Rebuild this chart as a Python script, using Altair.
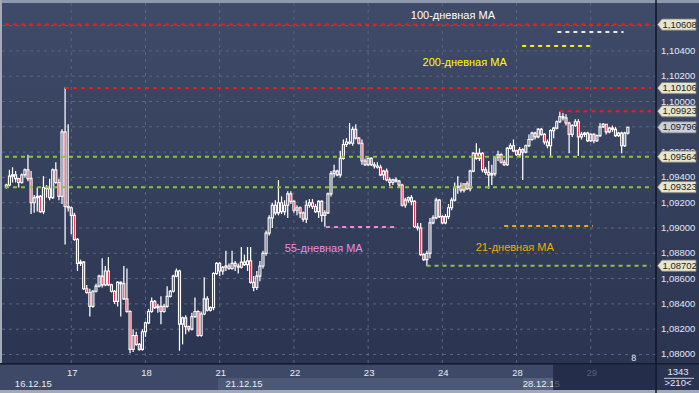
import altair as alt
import pandas as pd

# ---------------- data (EURUSD H1) ----------------
opens = [
    1.0932, 1.0934, 1.0941, 1.0942, 1.0939, 1.0936, 1.0942, 1.0946, 1.0939, 1.0920,
    1.0924, 1.0925, 1.0913, 1.0932, 1.0931, 1.0924, 1.0946, 1.0936, 1.0925, 1.0976,
    1.0917, 1.0916, 1.0910, 1.0891, 1.0872, 1.0873, 1.0852, 1.0849, 1.0838, 1.0850,
    1.0854, 1.0862, 1.0855, 1.0866, 1.0855, 1.0850, 1.0842, 1.0857, 1.0856, 1.0844,
    1.0834, 1.0804, 1.0815, 1.0808, 1.0804, 1.0818, 1.0825, 1.0834, 1.0842, 1.0837,
    1.0838, 1.0834, 1.0838, 1.0846, 1.0850, 1.0862, 1.0866, 1.0824, 1.0829, 1.0822,
    1.0820, 1.0830, 1.0834, 1.0815, 1.0832, 1.0844, 1.0835, 1.0837, 1.0864, 1.0872,
    1.0866, 1.0869, 1.0870, 1.0868, 1.0872, 1.0870, 1.0869, 1.0873, 1.0871, 1.0874,
    1.0857, 1.0853, 1.0862, 1.0870, 1.0880, 1.0896, 1.0908, 1.0918, 1.0912, 1.0920,
    1.0913, 1.0918, 1.0927, 1.0921, 1.0914, 1.0916, 1.0912, 1.0907, 1.0918, 1.0920,
    1.0917, 1.0913, 1.0921, 1.0910, 1.0912, 1.0927, 1.0943, 1.0945, 1.0942, 1.0955,
    1.0966, 1.0968, 1.0967, 1.0978, 1.0971, 1.0967, 1.0953, 1.0950, 1.0955, 1.0950,
    1.0949, 1.0948, 1.0942, 1.0945, 1.0938, 1.0936, 1.0938, 1.0937, 1.0934, 1.0918,
    1.0922, 1.0924, 1.0921, 1.0901, 1.0900, 1.0879, 1.0875, 1.0880, 1.0904, 1.0908,
    1.0922, 1.0909, 1.0904, 1.0909, 1.0916, 1.0922, 1.0932, 1.0933, 1.0930, 1.0935,
    1.0931, 1.0945, 1.0959, 1.0955, 1.0959, 1.0946, 1.0944, 1.0942, 1.0943, 1.0956,
    1.0958, 1.0952, 1.0950, 1.0963, 1.0965, 1.0961, 1.0958, 1.0962, 1.0960, 1.0965,
    1.0970, 1.0975, 1.0972, 1.0978, 1.0974, 1.0968, 1.0965, 1.0977, 1.0979, 1.0984,
    1.0988, 1.0987, 1.0983, 1.0974, 1.0981, 1.0984, 1.0972, 1.0974, 1.0975, 1.0969,
    1.0974, 1.0969, 1.0973, 1.0980, 1.0982, 1.0976, 1.0979, 1.0978, 1.0973, 1.0975,
    1.0965, 1.0975,
]
highs = [
    1.0935, 1.0946, 1.0948, 1.0945, 1.0939, 1.0943, 1.0947, 1.0958, 1.0945, 1.0926,
    1.0932, 1.0926, 1.0941, 1.0934, 1.0939, 1.0947, 1.0952, 1.0939, 1.0978, 1.1011,
    1.0982, 1.0917, 1.0912, 1.0892, 1.0875, 1.0874, 1.0855, 1.0852, 1.0851, 1.0856,
    1.0863, 1.0876, 1.0870, 1.0877, 1.0856, 1.0851, 1.0858, 1.0858, 1.0870, 1.0868,
    1.0835, 1.0820, 1.0818, 1.0809, 1.0820, 1.0826, 1.0836, 1.0845, 1.0843, 1.0840,
    1.0846, 1.0840, 1.0854, 1.0851, 1.0863, 1.0868, 1.0867, 1.0830, 1.0831, 1.0823,
    1.0833, 1.0845, 1.0835, 1.0834, 1.0861, 1.0846, 1.0838, 1.0865, 1.0873, 1.0873,
    1.0870, 1.0882, 1.0872, 1.0882, 1.0874, 1.0872, 1.0885, 1.0879, 1.0885, 1.0885,
    1.0862, 1.0866, 1.0874, 1.0882, 1.0898, 1.0910, 1.0920, 1.0922, 1.0938, 1.0925,
    1.0922, 1.0929, 1.0929, 1.0922, 1.0918, 1.0917, 1.0913, 1.0922, 1.0923, 1.0923,
    1.0919, 1.0922, 1.0922, 1.0914, 1.0928, 1.0945, 1.0950, 1.0946, 1.0961, 1.0970,
    1.0971, 1.0983, 1.0980, 1.0982, 1.0972, 1.0970, 1.0955, 1.0956, 1.0956, 1.0952,
    1.0952, 1.0950, 1.0946, 1.0947, 1.0940, 1.0939, 1.0940, 1.0938, 1.0935, 1.0924,
    1.0925, 1.0926, 1.0922, 1.0904, 1.0904, 1.0880, 1.0882, 1.0908, 1.0910, 1.0924,
    1.0923, 1.0910, 1.0911, 1.0919, 1.0924, 1.0936, 1.0941, 1.0936, 1.0935, 1.0937,
    1.0946, 1.0960, 1.0967, 1.0963, 1.0960, 1.0948, 1.0953, 1.0950, 1.0957, 1.0961,
    1.0959, 1.0954, 1.0964, 1.0967, 1.0970, 1.0962, 1.0964, 1.0963, 1.0966, 1.0974,
    1.0976, 1.0976, 1.0979, 1.0979, 1.0975, 1.0970, 1.0978, 1.0980, 1.0985, 1.0992,
    1.0991, 1.0990, 1.0984, 1.0982, 1.0986, 1.0986, 1.0976, 1.0976, 1.0976, 1.0975,
    1.0975, 1.0974, 1.0983, 1.0983, 1.0982, 1.0980, 1.0981, 1.0980, 1.0976, 1.0976,
    1.0976, 1.0980,
]
lows = [
    1.0931, 1.0933, 1.0936, 1.0936, 1.0932, 1.0935, 1.0940, 1.0937, 1.0911, 1.0912,
    1.0913, 1.0912, 1.0911, 1.0924, 1.0922, 1.0923, 1.0935, 1.0922, 1.0919, 1.0887,
    1.0913, 1.0895, 1.0890, 1.0866, 1.0870, 1.0851, 1.0848, 1.0830, 1.0837, 1.0849,
    1.0853, 1.0853, 1.0854, 1.0854, 1.0849, 1.0840, 1.0838, 1.0830, 1.0843, 1.0833,
    1.0801, 1.0802, 1.0807, 1.0803, 1.0803, 1.0814, 1.0824, 1.0833, 1.0836, 1.0833,
    1.0824, 1.0833, 1.0837, 1.0845, 1.0849, 1.0861, 1.0803, 1.0808, 1.0816, 1.0818,
    1.0819, 1.0829, 1.0814, 1.0814, 1.0831, 1.0834, 1.0834, 1.0835, 1.0863, 1.0862,
    1.0863, 1.0866, 1.0867, 1.0867, 1.0866, 1.0864, 1.0868, 1.0870, 1.0866, 1.0856,
    1.0850, 1.0851, 1.0858, 1.0868, 1.0878, 1.0894, 1.0900, 1.0910, 1.0910, 1.0911,
    1.0910, 1.0908, 1.0919, 1.0912, 1.0910, 1.0908, 1.0905, 1.0904, 1.0916, 1.0915,
    1.0912, 1.0908, 1.0905, 1.0901, 1.0911, 1.0925, 1.0940, 1.0941, 1.0940, 1.0954,
    1.0964, 1.0966, 1.0965, 1.0970, 1.0966, 1.0950, 1.0949, 1.0949, 1.0949, 1.0947,
    1.0947, 1.0941, 1.0938, 1.0937, 1.0933, 1.0934, 1.0936, 1.0932, 1.0917, 1.0916,
    1.0920, 1.0918, 1.0900, 1.0898, 1.0878, 1.0874, 1.0870, 1.0876, 1.0903, 1.0907,
    1.0908, 1.0903, 1.0903, 1.0907, 1.0914, 1.0921, 1.0927, 1.0928, 1.0928, 1.0930,
    1.0929, 1.0944, 1.0954, 1.0953, 1.0944, 1.0942, 1.0931, 1.0934, 1.0941, 1.0953,
    1.0951, 1.0949, 1.0949, 1.0962, 1.0960, 1.0957, 1.0957, 1.0938, 1.0959, 1.0964,
    1.0969, 1.0970, 1.0971, 1.0973, 1.0966, 1.0963, 1.0957, 1.0971, 1.0978, 1.0983,
    1.0985, 1.0981, 1.0959, 1.0972, 1.0980, 1.0957, 1.0970, 1.0972, 1.0968, 1.0968,
    1.0967, 1.0968, 1.0972, 1.0979, 1.0974, 1.0975, 1.0976, 1.0972, 1.0972, 1.0959,
    1.0964, 1.0974,
]
closes = [
    1.0934, 1.0941, 1.0942, 1.0939, 1.0936, 1.0942, 1.0946, 1.0939, 1.0920, 1.0924,
    1.0925, 1.0913, 1.0932, 1.0931, 1.0924, 1.0946, 1.0936, 1.0925, 1.0976, 1.0917,
    1.0916, 1.0910, 1.0891, 1.0872, 1.0873, 1.0852, 1.0849, 1.0838, 1.0850, 1.0854,
    1.0862, 1.0855, 1.0866, 1.0855, 1.0850, 1.0842, 1.0857, 1.0856, 1.0844, 1.0834,
    1.0804, 1.0815, 1.0808, 1.0804, 1.0818, 1.0825, 1.0834, 1.0842, 1.0837, 1.0838,
    1.0834, 1.0838, 1.0846, 1.0850, 1.0862, 1.0866, 1.0824, 1.0829, 1.0822, 1.0820,
    1.0830, 1.0834, 1.0815, 1.0832, 1.0844, 1.0835, 1.0837, 1.0864, 1.0872, 1.0866,
    1.0869, 1.0870, 1.0868, 1.0872, 1.0870, 1.0869, 1.0873, 1.0871, 1.0874, 1.0857,
    1.0853, 1.0862, 1.0870, 1.0880, 1.0896, 1.0908, 1.0918, 1.0912, 1.0920, 1.0913,
    1.0918, 1.0927, 1.0921, 1.0914, 1.0916, 1.0912, 1.0907, 1.0918, 1.0920, 1.0917,
    1.0913, 1.0921, 1.0910, 1.0912, 1.0927, 1.0943, 1.0945, 1.0942, 1.0955, 1.0966,
    1.0968, 1.0967, 1.0978, 1.0971, 1.0967, 1.0953, 1.0950, 1.0955, 1.0950, 1.0949,
    1.0948, 1.0942, 1.0945, 1.0938, 1.0936, 1.0938, 1.0937, 1.0934, 1.0918, 1.0922,
    1.0924, 1.0921, 1.0901, 1.0900, 1.0879, 1.0875, 1.0880, 1.0904, 1.0908, 1.0922,
    1.0909, 1.0904, 1.0909, 1.0916, 1.0922, 1.0932, 1.0933, 1.0930, 1.0935, 1.0931,
    1.0945, 1.0959, 1.0955, 1.0959, 1.0946, 1.0944, 1.0942, 1.0943, 1.0956, 1.0958,
    1.0952, 1.0950, 1.0963, 1.0965, 1.0961, 1.0958, 1.0962, 1.0960, 1.0965, 1.0970,
    1.0975, 1.0972, 1.0978, 1.0974, 1.0968, 1.0965, 1.0977, 1.0979, 1.0984, 1.0988,
    1.0987, 1.0983, 1.0974, 1.0981, 1.0984, 1.0972, 1.0974, 1.0975, 1.0969, 1.0974,
    1.0969, 1.0973, 1.0980, 1.0982, 1.0976, 1.0979, 1.0978, 1.0973, 1.0975, 1.0965,
    1.0975, 1.09796,
]

day_labels = ["17", "18", "21", "22", "23", "24", "28", "29"]
day_start_bar = [21, 45, 69, 93, 117, 141, 165, 189]
date_labels = ["16.12.15", "21.12.15", "28.12.15"]
date_label_bar = [2.75, 70.9, 167.0]

y_ticks = [1.080, 1.082, 1.084, 1.086, 1.088, 1.090, 1.092, 1.094, 1.096, 1.098,
           1.100, 1.102, 1.104, 1.106]
y_tick_labels = ["1,08000", "1,08200", "1,08400", "1,08600", "1,08800", "1,09000",
                 "1,09200", "1,09400", "1,09600", "1,09800", "1,10000", "1,10200",
                 "1,10400", "1,10600"]

level_price = [1.10608, 1.10106, 1.09923, 1.10549, 1.10439, 1.09564, 1.09323,
               1.08702, 1.09008, 1.09016]
level_from = [-0.43, 19.0, 178.9, 178.2, 166.8, -0.43, -0.43, 135.9, 103.4, 161.0]
level_to = [208.5, 208.5, 208.5, 199.6, 188.7, 208.5, 208.5, 208.5, 125.4, 189.7]
level_color = ["#ea1c1c", "#ea1c1c", "#ea1c1c", "#e6e9ee", "#f2f20a", "#8cc43f",
               "#8cc43f", "#8cc43f", "#ee8ae4", "#f5a800"]

ann_text = ["100-дневная МА", "200-дневная МА", "55-дневная МА", "21-дневная МА"]
ann_bar = [130.8, 134.6, 90.0, 151.8]
ann_price = [1.10676, 1.10302, 1.08832, 1.08840]
ann_color = ["#ffffff", "#ffff00", "#f08ce6", "#f5a800"]

tag_price = [1.10608, 1.10106, 1.09923, 1.09796, 1.09564, 1.09323, 1.08702]
tag_labels = ["1,10608", "1,10106", "1,09923", "1,09796", "1,09564", "1,09323", "1,08702"]
tag_fill = ["#e7e5cd", "#e7e5cd", "#e7e5cd", "#c9cfdb", "#e7e5cd", "#e7e5cd", "#e7e5cd"]

bars_count_text = ["1343", ">210<"]
corner_text = ["8"]

# ---------------- chart ----------------
W, H = 656, 360
FONT = "Liberation Sans"
xs = alt.Scale(domain=[-0.433, 208.48], nice=False, zero=False)
ys = alt.Scale(domain=[1.079328, 1.107787], nice=False, zero=False)


def X(f):
    return alt.X(f, type="quantitative", scale=xs, axis=None)


def Y(f):
    return alt.Y(f, type="quantitative", scale=ys, axis=None)


one = pd.DataFrame({"a": [0]})


def box(x1, x2, y1, y2, fill, opacity=1.0):
    return alt.Chart(one).mark_rect(fill=fill, opacity=opacity).encode(
        x=alt.value(x1), x2=alt.value(x2), y=alt.value(y1), y2=alt.value(y2))


grad = alt.LinearGradient(
    gradient="linear",
    stops=[alt.GradientStop(color="#3f4b68", offset=0),
           alt.GradientStop(color="#2b3552", offset=1)],
    x1=0, x2=0, y1=0, y2=1)
bg = alt.Chart(one).mark_rect(fill=grad).encode(
    x=alt.value(0), x2=alt.value(699), y=alt.value(0), y2=alt.value(H))

top_border = box(0, 699, -3, 0, "#8f99ad")
left_border = box(0, 2, -3, H, "#a3aab8")

grid_df = pd.DataFrame({"v": y_ticks})
hgrid = alt.Chart(grid_df).mark_rule(color="#5a6680", strokeDash=[3, 4], strokeWidth=1).encode(
    y=Y("v"), x=alt.value(2), x2=alt.value(W))

days_df = pd.DataFrame({"b": day_start_bar, "lab": day_labels})
vgrid = alt.Chart(days_df).mark_rule(color="#5a6680", strokeDash=[3, 4], strokeWidth=1).encode(
    x=X("b"), y=alt.value(0), y2=alt.value(H))

bars = pd.DataFrame({"i": list(range(len(closes))), "o": opens, "h": highs,
                     "l": lows, "c": closes})
cb = alt.Chart(bars).transform_calculate(
    top="max(datum.o, datum.c)", bot="min(datum.o, datum.c)")
wick_hi = cb.mark_rule(color="#ffffff", strokeWidth=1.25).encode(x=X("i"), y=Y("h"), y2="top:Q")
wick_lo = cb.mark_rule(color="#ffffff", strokeWidth=1.25).encode(x=X("i"), y=Y("bot"), y2="l:Q")
body = cb.mark_bar(size=2, stroke="#ffffff", strokeWidth=1.15).encode(
    x=X("i"), y=Y("o"), y2="c:Q",
    fill=alt.condition("datum.c < datum.o", alt.value("#e8102c"), alt.value("transparent")))

lev_df = pd.DataFrame({"p": level_price, "x0": level_from, "x1": level_to, "col": level_color})
levels = alt.Chart(lev_df).mark_rule(strokeDash=[4, 4], strokeWidth=2).encode(
    y=Y("p"), x=X("x0"), x2="x1:Q", color=alt.Color("col:N", scale=None))

ann_df = pd.DataFrame({"t": ann_text, "b": ann_bar, "p": ann_price, "col": ann_color})
ann = alt.Chart(ann_df).mark_text(align="left", baseline="middle", font=FONT, fontSize=11).encode(
    x=X("b"), y=Y("p"), text="t:N", color=alt.Color("col:N", scale=None))

sep_v = alt.Chart(one).mark_rule(color="#0f1626", strokeWidth=1.5).encode(
    x=alt.value(656), y=alt.value(-3), y2=alt.value(390))

ylab_df = pd.DataFrame({"v": y_ticks, "lab": y_tick_labels})
ylabels = alt.Chart(ylab_df).mark_text(align="left", baseline="middle", font=FONT,
                                       fontSize=9.5, color="#e3e8f0").encode(
    y=Y("v"), x=alt.value(661), text="lab:N")

tag_path = "M -1 0 L -0.77 -0.29 L 1 -0.29 L 1 0.29 L -0.77 0.29 Z"
tag_df = pd.DataFrame({"p": tag_price, "lab": tag_labels, "f": tag_fill})
tags = alt.Chart(tag_df).mark_point(shape=tag_path, size=1482, filled=True, opacity=1,
                                    stroke="#7d7f78", strokeWidth=0.8).encode(
    y=Y("p"), x=alt.value(676.75), fill=alt.Fill("f:N", scale=None))
tag_txt = alt.Chart(tag_df).mark_text(align="left", baseline="middle", font=FONT,
                                      fontSize=9.5, color="#1c1c1c").encode(
    y=Y("p"), x=alt.value(662.5), text="lab:N")

# bottom time panel
sep_h = alt.Chart(one).mark_rule(color="#141c2e", strokeWidth=1.5).encode(
    y=alt.value(360.75), x=alt.value(0), x2=alt.value(699))
panel = box(0, 656, 361.5, 387, "#3d4966")
panel_low = box(218, 523, 375, 387, "#4b5876")
panel_box = box(523, 553, 375, 387, "#56637f")
day_txt = alt.Chart(days_df).mark_text(align="center", baseline="middle", font=FONT,
                                       fontSize=9.5, color="#e8ecf3", dx=1).encode(
    x=X("b"), y=alt.value(369.7), text="lab:N")
date_df = pd.DataFrame({"b": date_label_bar, "lab": date_labels})
date_txt = alt.Chart(date_df).mark_text(align="left", baseline="middle", font=FONT,
                                        fontSize=9.5, color="#e8ecf3").encode(
    x=X("b"), y=alt.value(380.7), text="lab:N")
dark_over = box(553, 655, 361.5, 387, "#1b2440", 0.72)
bottom_border = box(0, 699, 387, 390, "#a2aab9")

corner_box = box(657, 699, 361.5, 387, "#2a3350")
cnt_df = pd.DataFrame({"t": bars_count_text, "yy": [368.7, 380.3]})
cnt_txt = alt.Chart(cnt_df).mark_text(align="center", baseline="middle", font=FONT,
                                      fontSize=9.5, color="#e3e8f0").encode(
    x=alt.value(678), y=alt.Y("yy:Q", scale=None, axis=None), text="t:N")
cnt_rule = alt.Chart(one).mark_rule(color="#c9cfdc", strokeWidth=1).encode(
    x=alt.value(664), x2=alt.value(694), y=alt.value(375.3))

eight_df = pd.DataFrame({"t": corner_text, "b": [202.1], "p": [1.079723]})
eight = alt.Chart(eight_df).mark_text(align="left", baseline="middle", font=FONT,
                                      fontSize=9, color="#e8ecf3").encode(
    x=X("b"), y=Y("p"), text="t:N")

chart = alt.layer(
    bg, top_border, left_border, hgrid, vgrid,
    wick_hi, wick_lo, body, levels, ann,
    ylabels, tags, tag_txt,
    panel, panel_low, panel_box, day_txt, date_txt, dark_over,
    corner_box, cnt_txt, cnt_rule, bottom_border, sep_h, sep_v, eight,
).properties(
    width=W, height=H,
    padding={"left": 0, "top": 3, "right": 43, "bottom": 30},
    autosize=alt.AutoSizeParams(type="none"),
).configure(background="#2b3552").configure_view(stroke=None)

chart.save("out.html", embed_options={"renderer": "svg", "actions": False})
